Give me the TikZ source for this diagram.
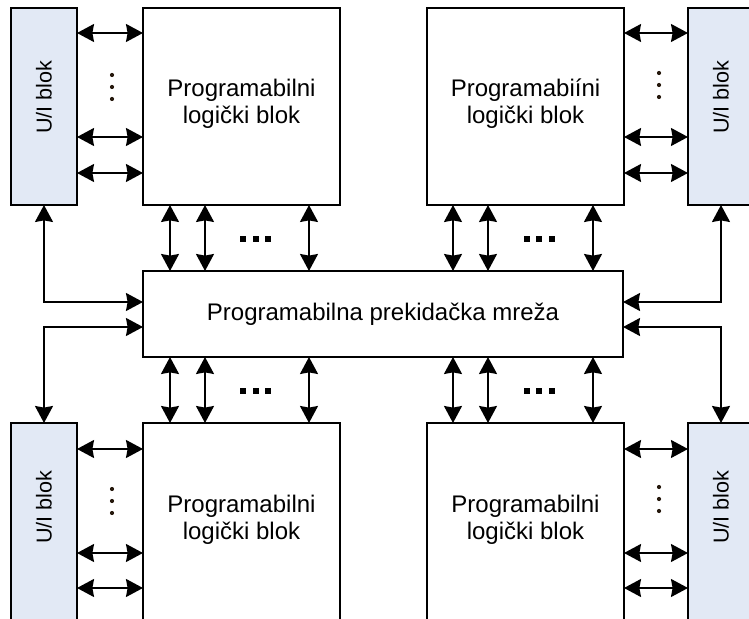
\documentclass[tikz,border=0pt]{standalone}
\usepackage{fontspec}
\setmainfont{Liberation Sans}
\usetikzlibrary{arrows.meta}
\definecolor{uifill}{RGB}{226,233,245}
\begin{document}
\begin{tikzpicture}[x=0.5pt,y=-0.5pt,
  box/.style={draw, line width=0.65pt, inner sep=0pt, outer sep=0pt, fill=white},
  uibox/.style={box, fill=uifill, minimum width=33pt, minimum height=98.5pt},
  plb/.style={box, minimum width=98.5pt, minimum height=98.5pt},
  lbl/.style={font=\fontsize{12}{13.4}\selectfont, align=center, inner sep=0pt},
  uilbl/.style={font=\fontsize{10.8}{13}\selectfont, rotate=90, inner sep=0pt},
  bi/.style={line width=0.8pt, {Stealth[length=8.5pt,width=9pt,inset=0.8pt]}-{Stealth[length=8.5pt,width=9pt,inset=0.8pt]}}]
\useasboundingbox (0,0) rectangle (749,619);
\clip (0,0) rectangle (749,619);
% boxes
\node[uibox] (uitl) at (44,106.5) {};
\node[plb] (pltl) at (241.5,106.5) {};
\node[plb] (pltr) at (525.5,106.5) {};
\node[uibox] (uitr) at (721,106.5) {};
\node[uibox] (uibl) at (44,521.5) {};
\node[plb] (plbl) at (241.5,521.5) {};
\node[plb] (plbr) at (525.5,521.5) {};
\node[uibox] (uibr) at (721,521.5) {};
\node[box, minimum width=240pt, minimum height=43pt] (net) at (383,314) {};
% labels
\node[lbl] (tpltl) at (241.5,104) {Programabilni\\logički blok};
\node[lbl] (tpltr) at (525.5,104) {Programabiíni\\logički blok};
\node[lbl] (tplbl) at (241.5,520) {Programabilni\\logički blok};
\node[lbl] (tplbr) at (525.5,520) {Programabilni\\logički blok};
\node[lbl] (tnet) at (383,314) {Programabilna prekidačka mreža};
\node[uilbl] (tuitl) at (44,97) {U/I blok};
\node[uilbl] (tuitr) at (721,97) {U/I blok};
\node[uilbl] (tuibl) at (44,507) {U/I blok};
\node[uilbl] (tuibr) at (721,507) {U/I blok};
% horizontal arrows
\foreach \y in {33,137,173} {
  \draw[bi] (uitl.east |- 0,\y) -- (pltl.west |- 0,\y);
  \draw[bi] (pltr.east |- 0,\y) -- (uitr.west |- 0,\y);
}
\foreach \y in {449,553,588} {
  \draw[bi] (uibl.east |- 0,\y) -- (plbl.west |- 0,\y);
  \draw[bi] (plbr.east |- 0,\y) -- (uibr.west |- 0,\y);
}
% vertical arrows
\foreach \x in {170,205,309} {
  \draw[bi] (pltl.south -| \x,0) -- (net.north -| \x,0);
  \draw[bi] (net.south -| \x,0) -- (plbl.north -| \x,0);
}
\foreach \x in {453,488,593} {
  \draw[bi] (pltr.south -| \x,0) -- (net.north -| \x,0);
  \draw[bi] (net.south -| \x,0) -- (plbr.north -| \x,0);
}
% L connectors
\draw[bi] (uitl.south) |- (net.west |- 0,302);
\draw[bi] (net.west |- 0,327) -| (uibl.north);
\draw[bi] (uitr.south) |- (net.east |- 0,302);
\draw[bi] (net.east |- 0,327) -| (uibr.north);
% vertical dots
\foreach \x/\y in {112/75,112/87,112/99,659/73,659/85,659/97,112/489,112/501,112/513,659/487,659/499,659/511}
  \fill[black!80!brown] (\x,\y) circle (1.05pt);
% horizontal dots
\foreach \x in {243,256,268,527,539,552}
  \foreach \y in {239,391}
    \fill (\x,\y) ++(-1.4pt,-1.4pt) rectangle ++(2.8pt,2.8pt);
\end{tikzpicture}
\end{document}
